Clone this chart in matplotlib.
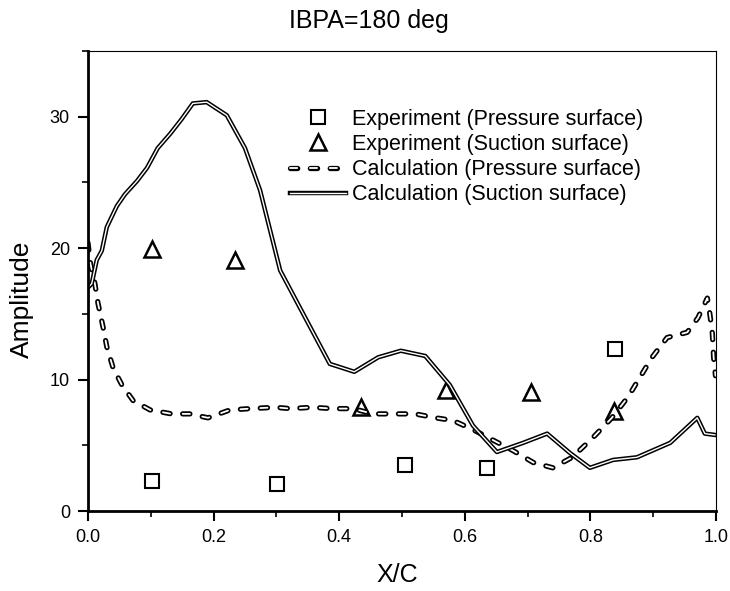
import numpy as np
import matplotlib.pyplot as plt
import matplotlib.patheffects as pe
from matplotlib.ticker import MultipleLocator

plt.rcParams['font.family'] = ['Liberation Sans', 'DejaVu Sans']

# experiment, pressure surface
exp_p_x = [0.102, 0.301, 0.505, 0.636, 0.839]
exp_p_y = [2.3, 2.05, 3.5, 3.3, 12.3]
# experiment, suction surface
exp_s_x = [0.102, 0.234, 0.435, 0.570, 0.705, 0.838]
exp_s_y = [19.9, 19.1, 7.9, 9.2, 9.1, 7.6]

# calculation, pressure surface
calc_p_x = [0.0, 0.004, 0.011, 0.016, 0.024, 0.030, 0.040, 0.054, 0.072, 0.099,
            0.133, 0.162, 0.191, 0.226, 0.258, 0.298, 0.322, 0.357, 0.389, 0.422,
            0.454, 0.489, 0.521, 0.553, 0.581, 0.613, 0.645, 0.677, 0.709, 0.740,
            0.771, 0.804, 0.834, 0.860, 0.879, 0.898, 0.922, 0.954, 0.971, 0.986,
            0.990, 0.994, 0.996, 0.999]
calc_p_y = [20.4, 18.8, 17.3, 15.8, 14.0, 12.5, 10.9, 9.6, 8.4, 7.7,
            7.4, 7.4, 7.1, 7.7, 7.8, 7.9, 7.8, 7.9, 7.8, 7.8,
            7.4, 7.4, 7.4, 7.1, 6.9, 6.2, 5.4, 4.6, 3.7, 3.3,
            4.1, 5.6, 7.1, 8.7, 10.2, 11.7, 13.2, 13.6, 14.7, 16.2,
            15.0, 13.5, 11.7, 10.3]

# calculation, suction surface
calc_s_x = [0.0, 0.006, 0.014, 0.022, 0.030, 0.046, 0.059, 0.078, 0.094, 0.111,
            0.131, 0.149, 0.167, 0.189, 0.221, 0.250, 0.274, 0.306, 0.346, 0.385,
            0.424, 0.462, 0.498, 0.537, 0.576, 0.613, 0.651, 0.693, 0.731, 0.768,
            0.799, 0.836, 0.874, 0.927, 0.970, 0.982, 0.998]
calc_s_y = [17.0, 17.3, 19.1, 19.8, 21.6, 23.2, 24.1, 25.1, 26.1, 27.6,
            28.7, 29.8, 31.0, 31.1, 30.1, 27.6, 24.4, 18.3, 14.7, 11.2,
            10.6, 11.7, 12.2, 11.8, 9.6, 6.5, 4.5, 5.2, 5.9, 4.4,
            3.3, 3.9, 4.1, 5.2, 7.1, 5.9, 5.8]

fig = plt.figure(figsize=(7.3, 5.91), dpi=100)
ax = fig.add_axes([0.1205, 0.135, 0.8605, 0.779])

ax.plot(exp_p_x, exp_p_y, 's', ms=10, mfc='white', mec='black', mew=1.5,
        ls='none', label='Experiment (Pressure surface)')
ax.plot(exp_s_x, exp_s_y, '^', ms=12, mfc='white', mec='black', mew=1.8,
        ls='none', label='Experiment (Suction surface)')
ax.plot(calc_p_x, calc_p_y, color='white', lw=1.3, dashes=(4, 7), dash_capstyle='round',
        path_effects=[pe.Stroke(linewidth=3.8, foreground='black'), pe.Normal()],
        label='Calculation (Pressure surface)')
ax.plot(calc_s_x, calc_s_y, color='white', lw=1.0,
        path_effects=[pe.Stroke(linewidth=3.2, foreground='black'), pe.Normal()],
        label='Calculation (Suction surface)')

ax.set_xlim(0, 1.0)
ax.set_ylim(0, 35)
ax.xaxis.set_major_locator(MultipleLocator(0.2))
ax.xaxis.set_minor_locator(MultipleLocator(0.1))
ax.yaxis.set_major_locator(MultipleLocator(10))
ax.yaxis.set_minor_locator(MultipleLocator(5))
ax.set_xticklabels([f'{v:.1f}' for v in ax.get_xticks()])
ax.tick_params(which='major', direction='out', length=7, width=1.5, labelsize=13)
ax.tick_params(axis='y', which='major', pad=6)
ax.tick_params(axis='x', which='major', pad=6)
ax.tick_params(which='minor', direction='out', length=4, width=1.2)
ax.spines['left'].set_linewidth(2)
ax.spines['bottom'].set_linewidth(2)
ax.spines['top'].set_linewidth(0.8)
ax.spines['right'].set_linewidth(0.8)

ax.set_xlabel('X/C', fontsize=18)
ax.xaxis.set_label_coords(0.493, -0.112)
ax.set_ylabel('Amplitude', fontsize=19)
ax.yaxis.set_label_coords(-0.086, 0.46)
fig.text(0.505, 0.964, 'IBPA=180 deg', fontsize=18, ha='center', va='center')

ax.legend(loc='upper left', bbox_to_anchor=(0.305, 0.898), frameon=False, fontsize=15.5,
          handlelength=2.6, handletextpad=0.28, labelspacing=0.2, borderpad=0)

fig.savefig('out.png', dpi=100)
